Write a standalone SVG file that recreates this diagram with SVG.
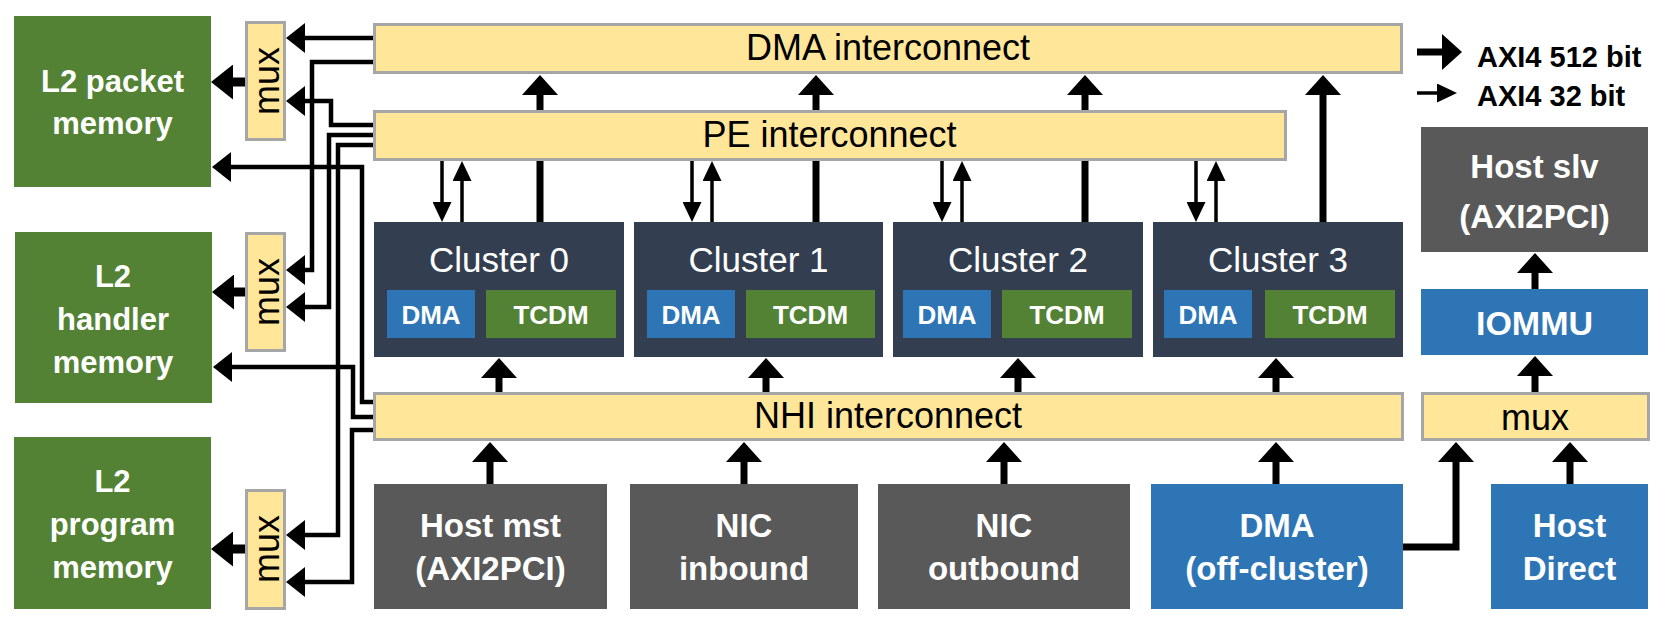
<svg xmlns="http://www.w3.org/2000/svg" width="1668" height="625" viewBox="0 0 1668 625">
<style>
.ic{fill:#FFE699;stroke:#A6A6A6;stroke-width:3}
.mem{fill:#548235}
.cl{fill:#333F50}
.blue{fill:#2E75B6}
.gray{fill:#595959}
text{font-family:'Liberation Sans',Arial,sans-serif}
.lbl{fill:#000;font-size:36px;text-anchor:middle}
.wb{fill:#fff;font-weight:bold;font-size:31px;text-anchor:middle}
.wb2{fill:#fff;font-weight:bold;font-size:33px;text-anchor:middle}
.ct{fill:#fff;font-size:35px;text-anchor:middle}
.sb{fill:#fff;font-weight:bold;font-size:26px;text-anchor:middle}
.lg{fill:#000;font-weight:bold;font-size:29px}
.thick{stroke:#000;stroke-width:7;fill:none}
.thin{stroke:#000;stroke-width:3.5;fill:none}
.wire{stroke:#000;stroke-width:4.5;fill:none}
.mx{stroke:#000;stroke-width:9;fill:none}
.ah{fill:#000}
</style>
<defs>
<marker id="hThick" markerUnits="userSpaceOnUse" viewBox="0 0 20 36" markerWidth="20" markerHeight="36" refX="1" refY="18" orient="auto"><path class="ah" d="M0,0 L20,18 L0,36 Z"/></marker>
<marker id="hThin" markerUnits="userSpaceOnUse" viewBox="0 0 20 19" markerWidth="20" markerHeight="19" refX="1" refY="9.5" orient="auto"><path class="ah" d="M0,0 L20,9.5 L0,19 Z"/></marker>
<marker id="hWire" markerUnits="userSpaceOnUse" viewBox="0 0 19 30" markerWidth="19" markerHeight="30" refX="1" refY="15" orient="auto"><path class="ah" d="M0,0 L19,15 L0,30 Z"/></marker>
<marker id="hMem" markerUnits="userSpaceOnUse" viewBox="0 0 22 35" markerWidth="22" markerHeight="35" refX="1" refY="17.5" orient="auto"><path class="ah" d="M0,0 L22,17.5 L0,35 Z"/></marker>
</defs>
<rect width="1668" height="625" fill="#fff"/>

<g id="connectors">
  <path class="thick" d="M540,222 V94" marker-end="url(#hThick)"/>
  <path class="thick" d="M816,222 V94" marker-end="url(#hThick)"/>
  <path class="thick" d="M1085,222 V94" marker-end="url(#hThick)"/>
  <path class="thick" d="M1323,222 V94" marker-end="url(#hThick)"/>
  <path class="thin" d="M442,161 V203" marker-end="url(#hThin)"/>
  <path class="thin" d="M462,222 V180" marker-end="url(#hThin)"/>
  <path class="thin" d="M692,161 V203" marker-end="url(#hThin)"/>
  <path class="thin" d="M712,222 V180" marker-end="url(#hThin)"/>
  <path class="thin" d="M942,161 V203" marker-end="url(#hThin)"/>
  <path class="thin" d="M962,222 V180" marker-end="url(#hThin)"/>
  <path class="thin" d="M1196,161 V203" marker-end="url(#hThin)"/>
  <path class="thin" d="M1216,222 V180" marker-end="url(#hThin)"/>
  <path class="thick" d="M499,392 V377" marker-end="url(#hThick)"/>
  <path class="thick" d="M766,392 V377" marker-end="url(#hThick)"/>
  <path class="thick" d="M1018,392 V377" marker-end="url(#hThick)"/>
  <path class="thick" d="M1276,392 V377" marker-end="url(#hThick)"/>
  <path class="thick" d="M490,484 V461" marker-end="url(#hThick)"/>
  <path class="thick" d="M744,484 V461" marker-end="url(#hThick)"/>
  <path class="thick" d="M1004,484 V461" marker-end="url(#hThick)"/>
  <path class="thick" d="M1276,484 V461" marker-end="url(#hThick)"/>
  <path class="thick" d="M1535,392 V375" marker-end="url(#hThick)"/>
  <path class="thick" d="M1535,289 V272" marker-end="url(#hThick)"/>
  <path class="thick" d="M1570,484 V461" marker-end="url(#hThick)"/>
  <path class="thick" d="M1403,547 H1456 V461" marker-end="url(#hThick)"/>
  <path class="thick" d="M1417,52 H1443" marker-end="url(#hThick)"/>
  <path class="thin" d="M1417,93 H1438" marker-end="url(#hThin)"/>
  <path class="mx" d="M245,82 H232" marker-end="url(#hMem)"/>
  <path class="mx" d="M245,292 H233" marker-end="url(#hMem)"/>
  <path class="mx" d="M245,549 H232" marker-end="url(#hMem)"/>
  <path class="wire" d="M373,38 H304" marker-end="url(#hWire)"/>
  <path class="wire" d="M373,62 H312 V270 H304" marker-end="url(#hWire)"/>
  <path class="wire" d="M373,125 H331 V101 H304" marker-end="url(#hWire)"/>
  <path class="wire" d="M373,135 H329 V307 H304" marker-end="url(#hWire)"/>
  <path class="wire" d="M373,145 H338 V535 H304" marker-end="url(#hWire)"/>
  <path class="wire" d="M373,402 H362 V167 H230" marker-end="url(#hWire)"/>
  <path class="wire" d="M373,417 H353 V367 H231" marker-end="url(#hWire)"/>
  <path class="wire" d="M373,430 H352 V582 H304" marker-end="url(#hWire)"/>
</g>

<g id="l2-packet-memory">
  <rect class="mem" x="14" y="16" width="197" height="171"/>
  <text class="wb" x="112.5" y="92">L2 packet</text>
  <text class="wb" x="112.5" y="134">memory</text>
</g>
<g id="l2-handler-memory">
  <rect class="mem" x="15" y="232" width="197" height="171"/>
  <text class="wb" x="113" y="287">L2</text>
  <text class="wb" x="113" y="330">handler</text>
  <text class="wb" x="113" y="373">memory</text>
</g>
<g id="l2-program-memory">
  <rect class="mem" x="14" y="437" width="197" height="172"/>
  <text class="wb" x="112.5" y="492">L2</text>
  <text class="wb" x="112.5" y="535">program</text>
  <text class="wb" x="112.5" y="578">memory</text>
</g>

<g id="mux-packet">
  <rect class="ic" x="246.5" y="22.5" width="38" height="117"/>
  <text class="lbl" transform="translate(279,81) rotate(-90)">mux</text>
</g>
<g id="mux-handler">
  <rect class="ic" x="246.5" y="233.5" width="38" height="117"/>
  <text class="lbl" transform="translate(279,292) rotate(-90)">mux</text>
</g>
<g id="mux-program">
  <rect class="ic" x="246.5" y="490.5" width="38" height="118"/>
  <text class="lbl" transform="translate(279,549) rotate(-90)">mux</text>
</g>

<g id="dma-interconnect">
  <rect class="ic" x="374.5" y="24.5" width="1027" height="48"/>
  <text class="lbl" x="888" y="60">DMA interconnect</text>
</g>
<g id="pe-interconnect">
  <rect class="ic" x="374.5" y="111.5" width="911" height="48"/>
  <text class="lbl" x="829.5" y="147">PE interconnect</text>
</g>
<g id="nhi-interconnect">
  <rect class="ic" x="374.5" y="393.5" width="1028" height="46"/>
  <text class="lbl" x="888" y="428">NHI interconnect</text>
</g>

<g id="cluster-0">
  <rect class="cl" x="374" y="222" width="250" height="135"/>
  <text class="ct" x="499" y="272">Cluster 0</text>
  <rect class="blue" x="387" y="290" width="88" height="48"/>
  <text class="sb" x="431" y="324">DMA</text>
  <rect class="mem" x="486" y="290" width="130" height="48"/>
  <text class="sb" x="551" y="324">TCDM</text>
</g>
<g id="cluster-1">
  <rect class="cl" x="634" y="222" width="249" height="135"/>
  <text class="ct" x="758.5" y="272">Cluster 1</text>
  <rect class="blue" x="647" y="290" width="88" height="48"/>
  <text class="sb" x="691" y="324">DMA</text>
  <rect class="mem" x="746" y="290" width="129" height="48"/>
  <text class="sb" x="810.5" y="324">TCDM</text>
</g>
<g id="cluster-2">
  <rect class="cl" x="893" y="222" width="250" height="135"/>
  <text class="ct" x="1018" y="272">Cluster 2</text>
  <rect class="blue" x="903" y="290" width="88" height="48"/>
  <text class="sb" x="947" y="324">DMA</text>
  <rect class="mem" x="1002" y="290" width="130" height="48"/>
  <text class="sb" x="1067" y="324">TCDM</text>
</g>
<g id="cluster-3">
  <rect class="cl" x="1153" y="222" width="250" height="135"/>
  <text class="ct" x="1278" y="272">Cluster 3</text>
  <rect class="blue" x="1164" y="290" width="88" height="48"/>
  <text class="sb" x="1208" y="324">DMA</text>
  <rect class="mem" x="1265" y="290" width="130" height="48"/>
  <text class="sb" x="1330" y="324">TCDM</text>
</g>

<g id="host-mst">
  <rect class="gray" x="374" y="484" width="233" height="125"/>
  <text class="wb2" x="490.5" y="537">Host mst</text>
  <text class="wb2" x="490.5" y="580">(AXI2PCI)</text>
</g>
<g id="nic-inbound">
  <rect class="gray" x="630" y="484" width="228" height="125"/>
  <text class="wb2" x="744" y="537">NIC</text>
  <text class="wb2" x="744" y="580">inbound</text>
</g>
<g id="nic-outbound">
  <rect class="gray" x="878" y="484" width="252" height="125"/>
  <text class="wb2" x="1004" y="537">NIC</text>
  <text class="wb2" x="1004" y="580">outbound</text>
</g>
<g id="dma-off-cluster">
  <rect class="blue" x="1151" y="484" width="252" height="125"/>
  <text class="wb2" x="1277" y="537">DMA</text>
  <text class="wb2" x="1277" y="580">(off-cluster)</text>
</g>
<g id="host-direct">
  <rect class="blue" x="1491" y="484" width="157" height="125"/>
  <text class="wb2" x="1569.5" y="537">Host</text>
  <text class="wb2" x="1569.5" y="580">Direct</text>
</g>

<g id="mux-host">
  <rect class="ic" x="1422.5" y="393.5" width="226" height="46"/>
  <text class="lbl" x="1535" y="430">mux</text>
</g>
<g id="iommu">
  <rect class="blue" x="1421" y="289" width="227" height="66"/>
  <text class="wb2" style="font-size:34px" x="1534.5" y="335">IOMMU</text>
</g>
<g id="host-slv">
  <rect class="gray" x="1421" y="127" width="227" height="125"/>
  <text class="wb2" x="1534.5" y="178">Host slv</text>
  <text class="wb2" x="1534.5" y="228">(AXI2PCI)</text>
</g>

<g id="legend">
  <text class="lg" x="1477" y="67">AXI4 512 bit</text>
  <text class="lg" x="1477" y="106">AXI4 32 bit</text>
</g>
</svg>
